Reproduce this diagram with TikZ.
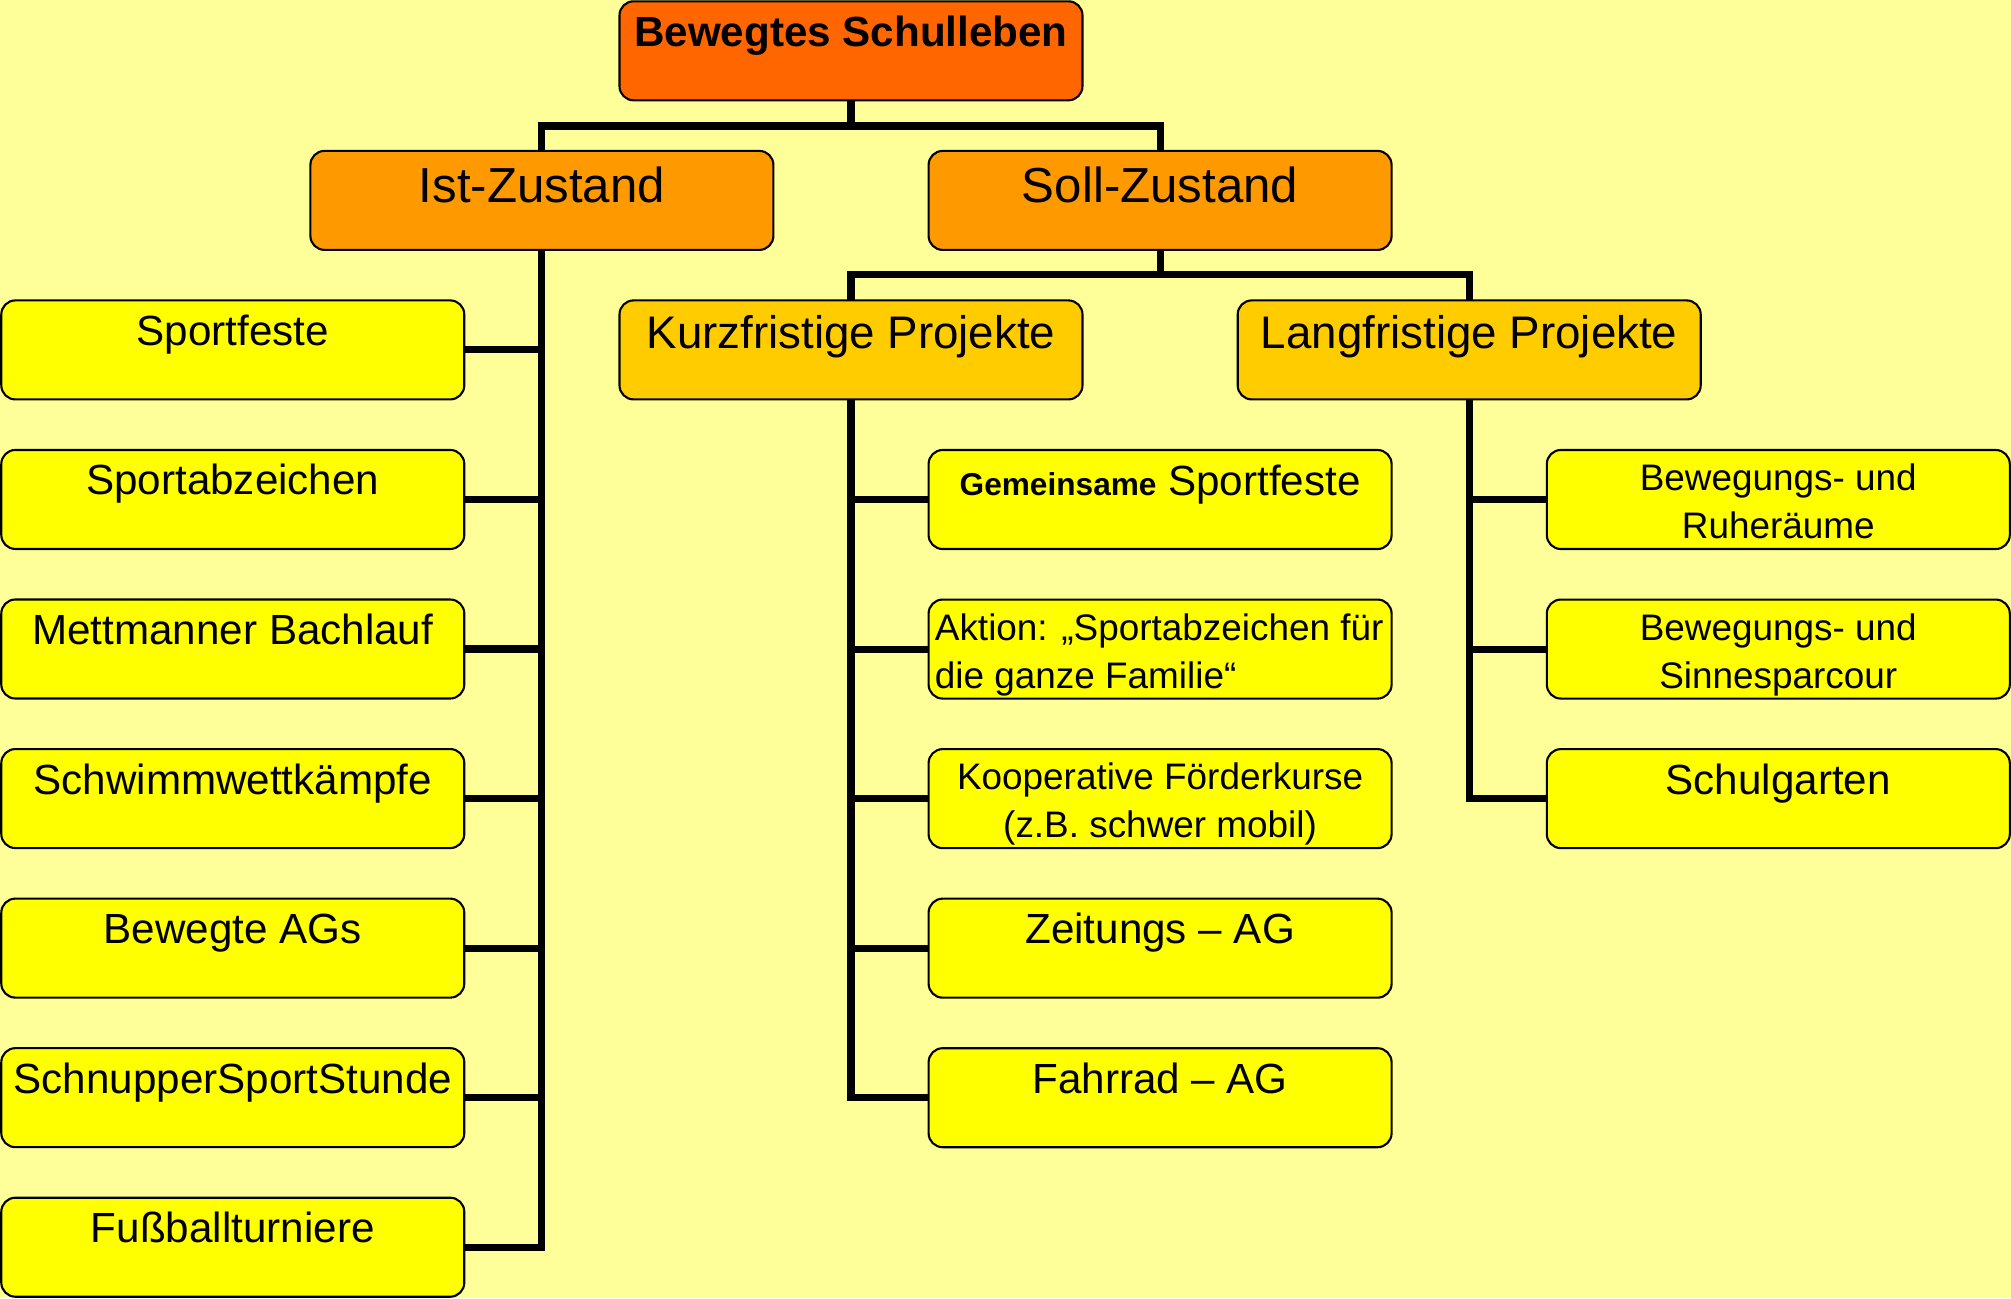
\documentclass[tikz,border=0pt]{standalone}
\usepackage{fontspec}
\setmainfont{Liberation Sans}
\usepackage{tikz}
\usetikzlibrary{positioning,calc}
\definecolor{bgcol}{HTML}{FFFF99}
\definecolor{rootcol}{HTML}{FF6600}
\definecolor{zustcol}{HTML}{FF9900}
\definecolor{projcol}{HTML}{FFCC00}
\definecolor{leafcol}{HTML}{FFFF00}
\newcommand*{\tbig}[1]{\parbox[c][0.99cm][t]{4.63cm}{\centering
  \fontsize{14}{17}\selectfont\vspace*{2.7pt}\strut#1}}
\newcommand*{\tproj}[1]{\parbox[c][0.99cm][t]{4.63cm}{\centering
  \fontsize{13}{15.5}\selectfont\vspace*{2.7pt}\strut#1}}
\newcommand*{\tmid}[1]{\parbox[c][0.99cm][t]{4.63cm}{\centering
  \fontsize{12}{14}\selectfont\vspace*{3pt}\strut#1}}
\newcommand*{\tsmall}[1]{\parbox[c][0.99cm][t]{4.63cm}{\centering
  \fontsize{10.5}{13.7}\selectfont\vspace*{2pt}\strut#1}}
\tikzset{
  box/.style={draw,line width=0.6pt,rounded corners=4pt,inner sep=0pt,outer sep=0pt},
  lvl0/.style={box,fill=rootcol},
  lvl1/.style={box,fill=zustcol},
  lvl2/.style={box,fill=projcol},
  leaf/.style={box,fill=leafcol},
  conn/.style={line width=2pt},
  node distance=0.5055cm
}

\begin{document}
\begin{tikzpicture}
% Background and page size
\fill[bgcol] (0,0) rectangle (20.11,-12.98);
\useasboundingbox (0,0) rectangle (20.11,-12.98);
% Top of the tree
\node[lvl0] (root) at (8.510,-0.508) {\tmid{\bfseries Bewegtes Schulleben}};
\node[lvl1] (ist) at (5.419,-2.004) {\tbig{Ist-Zustand}};
\node[lvl1] (soll) at (11.601,-2.004) {\tbig{Soll-Zustand}};
\node[lvl2] (kurz) at (8.510,-3.499) {\tproj{Kurzfristige Projekte}};
\node[lvl2] (lang) at (14.692,-3.499) {\tproj{Langfristige Projekte}};
% Left column: what there is now
\node[leaf] (sf) at (2.328,-3.499) {\tmid{Sportfeste}};
\node[leaf,below=of sf] (sa) {\tmid{Sportabzeichen}};
\node[leaf,below=of sa] (mb) {\tmid{Mettmanner Bachlauf}};
\node[leaf,below=of mb] (sw) {\tmid{Schwimmwettkämpfe}};
\node[leaf,below=of sw] (ag) {\tmid{Bewegte AGs}};
\node[leaf,below=of ag] (ss) {\tmid{SchnupperSportStunde}};
\node[leaf,below=of ss] (fb) {\tmid{Fußballturniere}};
% Middle column: short term projects
\node[leaf] (gs) at (11.601,-4.995)
  {\tmid{{\fontsize{9}{11}\selectfont\bfseries Gemeinsame} Sportfeste}};
\node[leaf,below=of gs] (ak)
  {\tsmall{\raggedright\leftskip=1.8pt Aktion: „Sportabzeichen für\\die ganze Familie“}};
\node[leaf,below=of ak] (kf) {\tsmall{Kooperative Förderkurse\\(z.B. schwer mobil)}};
\node[leaf,below=of kf] (za) {\tmid{Zeitungs – AG}};
\node[leaf,below=of za] (fr) {\tmid{Fahrrad – AG}};
% Right column: long term projects
\node[leaf] (br) at (17.783,-4.995) {\tsmall{Bewegungs- und\\Ruheräume}};
\node[leaf,below=of br] (bs) {\tsmall{Bewegungs- und\\Sinnesparcour}};
\node[leaf,below=of bs] (sg) {\tmid{Schulgarten}};
% Branches between the upper levels
\draw[conn] (root.south) -- ++(0,-0.257) -| (ist.north);
\draw[conn] (root.south) -- ++(0,-0.257) -| (soll.north);
\draw[conn] (soll.south) -- ++(0,-0.25) -| (kurz.north);
\draw[conn] (soll.south) -- ++(0,-0.25) -| (lang.north);
% Trunk of the left column
\draw[conn] (ist.south) |- (fb.east);
\draw[conn] (sf.east) -- (sf.east -| ist.south);
\draw[conn] (sa.east) -- (sa.east -| ist.south);
\draw[conn] (mb.east) -- (mb.east -| ist.south);
\draw[conn] (sw.east) -- (sw.east -| ist.south);
\draw[conn] (ag.east) -- (ag.east -| ist.south);
\draw[conn] (ss.east) -- (ss.east -| ist.south);
% Trunk of the middle column
\draw[conn] (kurz.south) |- (fr.west);
\draw[conn] (gs.west) -- (gs.west -| kurz.south);
\draw[conn] (ak.west) -- (ak.west -| kurz.south);
\draw[conn] (kf.west) -- (kf.west -| kurz.south);
\draw[conn] (za.west) -- (za.west -| kurz.south);
% Trunk of the right column
\draw[conn] (lang.south) |- (sg.west);
\draw[conn] (br.west) -- (br.west -| lang.south);
\draw[conn] (bs.west) -- (bs.west -| lang.south);
\end{tikzpicture}
\end{document}
